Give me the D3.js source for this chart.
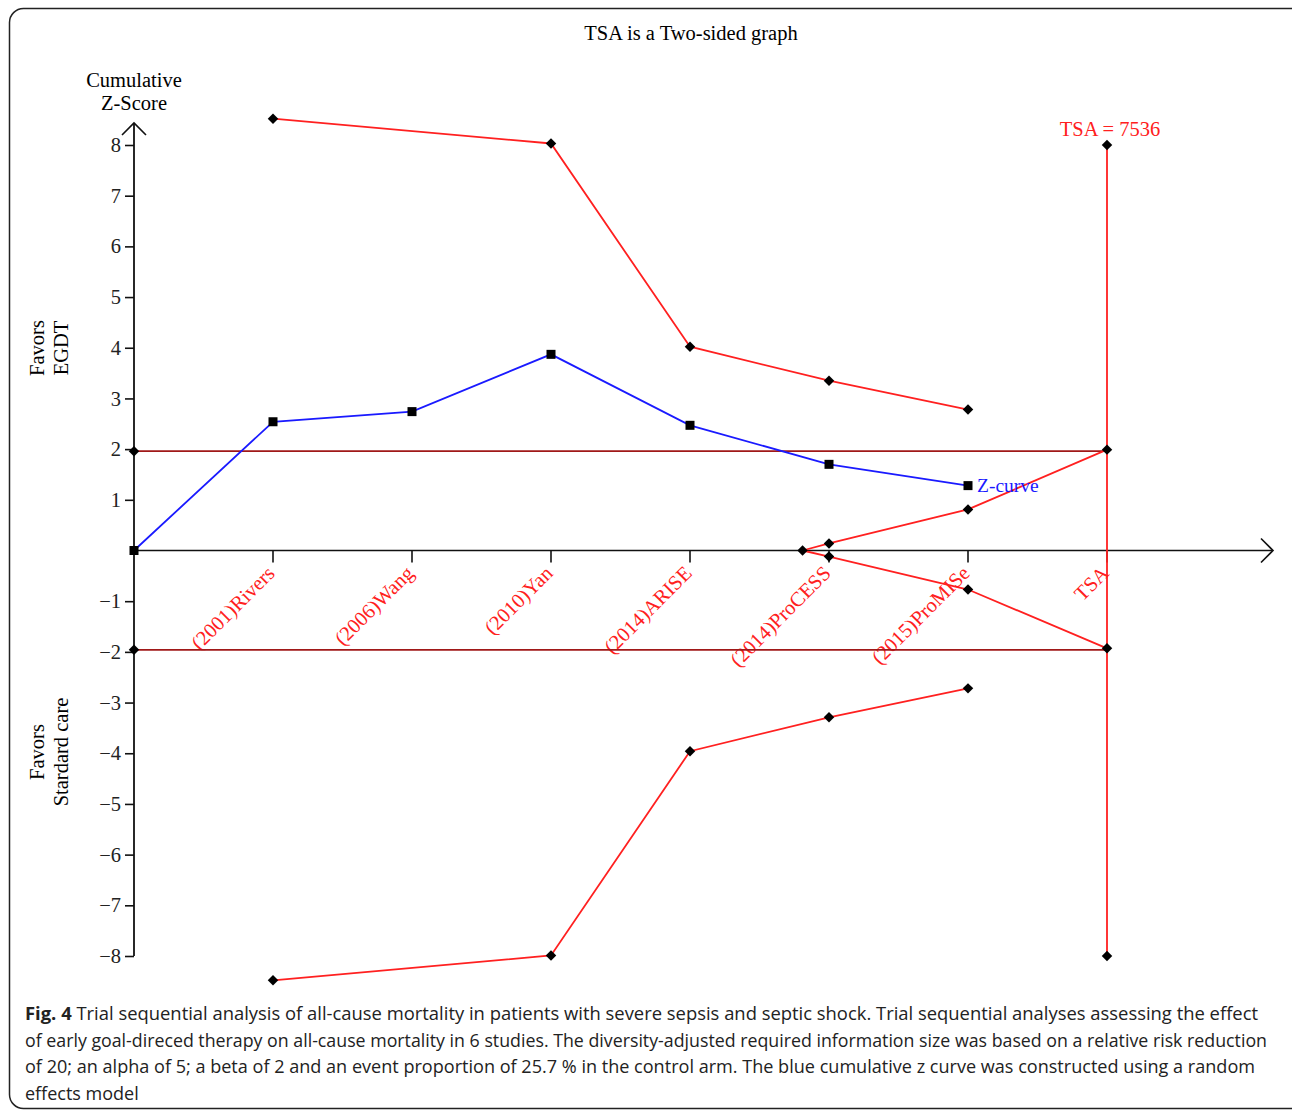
<!DOCTYPE html>
<html>
<head>
<meta charset="utf-8">
<script src="https://cdn.jsdelivr.net/npm/d3@7"></script>
<style>
  body { margin: 0; background: #fff; }
  svg { display: block; }
</style>
</head>
<body>
<div class="chart"></div>
<script>
// studies along the x axis (index 1..7, 0 is origin)
const studies = ["(2001)Rivers","(2006)Wang","(2010)Yan","(2014)ARISE","(2014)ProCESS","(2015)ProMISe","TSA"];

// cumulative z curve
const zPos = [0,1,2,3,4,5,6];
const zVals = [0, 2.54, 2.74, 3.87, 2.47, 1.70, 1.28];

// monitoring boundaries
const boundPos = [1,3,4,5,6];
const upperBound = [8.52, 8.03, 4.02, 3.35, 2.78];
const lowerBound = [-8.48, -7.99, -3.96, -3.29, -2.72];

// futility wedge
const futPos = [4.81, 5, 6, 7];
const futUpper = [0, 0.14, 0.81, 1.99];
const futLower = [0, -0.12, -0.77, -1.93];

// conventional boundary and TSA line
const conventional = [1.96, -1.96];
const tsaPos = 7;
const tsaRange = [8, -8];
const yTicks = [-8,-7,-6,-5,-4,-3,-2,-1,1,2,3,4,5,6,7,8];

// caption lines as printed
const captionLines = [
  "Trial sequential analysis of all-cause mortality in patients with severe sepsis and septic shock. Trial sequential analyses assessing the effect",
  "of early goal-direced therapy on all-cause mortality in 6 studies. The diversity-adjusted required information size was based on a relative risk reduction",
  "of 20; an alpha of 5; a beta of 2 and an event proportion of 25.7 % in the control arm. The blue cumulative z curve was constructed using a random",
  "effects model"
];

document.addEventListener('DOMContentLoaded', () => {
  const width = 1292, height = 1111;
  const serif = '"Liberation Serif", "Times New Roman", serif';
  const fs = 20.5;

  const svg = d3.select('.chart').append('svg')
    .attr('width', width).attr('height', height);

  // frame
  svg.append('rect')
    .attr('x', 9.5).attr('y', 8.5)
    .attr('width', 1300).attr('height', 1100)
    .attr('rx', 14)
    .attr('fill', 'none').attr('stroke', '#222').attr('stroke-width', 1.5);

  const xScale = d3.scaleLinear().domain([0, 7]).range([134, 1107]);
  const yScale = d3.scaleLinear().domain([-8, 8]).range([956, 145]);

  // title
  svg.append('text')
    .attr('x', 691).attr('y', 40)
    .attr('text-anchor', 'middle')
    .attr('font-family', serif).attr('font-size', fs)
    .text('TSA is a Two-sided graph');

  // y axis
  const yAxis = svg.append('g')
    .attr('transform', `translate(${xScale(0)},0)`)
    .call(d3.axisLeft(yScale).tickValues(yTicks).tickSize(9).tickPadding(4));
  yAxis.select('.domain').remove();
  yAxis.selectAll('line').attr('stroke', '#111').attr('stroke-width', 1.6);
  yAxis.selectAll('text').attr('font-family', serif).attr('font-size', fs).attr('fill', '#222');

  svg.append('line')
    .attr('x1', xScale(0)).attr('x2', xScale(0))
    .attr('y1', yScale(-8)).attr('y2', 123)
    .attr('stroke', '#111').attr('stroke-width', 1.8);
  svg.append('path')
    .attr('d', `M${xScale(0)-12},${135} L${xScale(0)},${123} L${xScale(0)+12},${135}`)
    .attr('fill', 'none').attr('stroke', '#111').attr('stroke-width', 1.6);

  // x axis
  svg.append('line')
    .attr('x1', xScale(0)).attr('x2', 1272)
    .attr('y1', yScale(0)).attr('y2', yScale(0))
    .attr('stroke', '#111').attr('stroke-width', 1.6);
  svg.append('path')
    .attr('d', `M1261,${yScale(0)-12} L1273,${yScale(0)} L1261,${yScale(0)+12}`)
    .attr('fill', 'none').attr('stroke', '#111').attr('stroke-width', 1.6);

  svg.selectAll('.xtick').data(studies).enter().append('line')
    .attr('class', 'xtick')
    .attr('x1', (d, i) => xScale(i + 1)).attr('x2', (d, i) => xScale(i + 1))
    .attr('y1', yScale(0)).attr('y2', yScale(0) + 12)
    .attr('stroke', '#111').attr('stroke-width', 1.6);

  svg.selectAll('.xlabel').data(studies).enter().append('text')
    .attr('class', 'xlabel')
    .attr('transform', (d, i) => `translate(${xScale(i + 1) + 3},${yScale(0) + 24}) rotate(-45)`)
    .attr('text-anchor', 'end')
    .attr('font-family', serif).attr('font-size', fs)
    .attr('fill', '#ff2020')
    .text(d => d);

  // axis titles
  svg.append('text')
    .attr('x', xScale(0)).attr('y', 87)
    .attr('text-anchor', 'middle')
    .attr('font-family', serif).attr('font-size', fs)
    .text('Cumulative');
  svg.append('text')
    .attr('x', xScale(0)).attr('y', 110)
    .attr('text-anchor', 'middle')
    .attr('font-family', serif).attr('font-size', fs)
    .text('Z-Score');

  const sideLabel = (cy, lines) => {
    const t = svg.append('text')
      .attr('transform', `translate(48,${cy}) rotate(-90)`)
      .attr('text-anchor', 'middle')
      .attr('font-family', serif).attr('font-size', fs);
    lines.forEach((l, i) => {
      t.append('tspan').attr('x', 0).attr('y', i === 0 ? -4 : 20).text(l);
    });
  };
  sideLabel(348, ['Favors', 'EGDT']);
  sideLabel(752, ['Favors', 'Stardard care']);

  // conventional boundaries
  svg.selectAll('.conv').data(conventional).enter().append('line')
    .attr('class', 'conv')
    .attr('x1', xScale(0)).attr('x2', xScale(tsaPos))
    .attr('y1', d => yScale(d)).attr('y2', d => yScale(d))
    .attr('stroke', '#a01818').attr('stroke-width', 1.8);

  // TSA vertical line
  svg.append('line')
    .attr('x1', xScale(tsaPos)).attr('x2', xScale(tsaPos))
    .attr('y1', yScale(tsaRange[0])).attr('y2', yScale(tsaRange[1]))
    .attr('stroke', '#ff2020').attr('stroke-width', 1.8);

  svg.append('text')
    .attr('x', xScale(tsaPos) + 3).attr('y', 136)
    .attr('text-anchor', 'middle')
    .attr('font-family', serif).attr('font-size', fs)
    .attr('fill', '#ff2020')
    .text('TSA = 7536');

  const line = d3.line().x(d => xScale(d[0])).y(d => yScale(d[1]));
  const zip = (a, b) => a.map((v, i) => [v, b[i]]);

  const redLines = [
    zip(boundPos, upperBound),
    zip(boundPos, lowerBound),
    zip(futPos, futUpper),
    zip(futPos, futLower)
  ];
  svg.selectAll('.bound').data(redLines).enter().append('path')
    .attr('class', 'bound')
    .attr('d', line)
    .attr('fill', 'none').attr('stroke', '#ff2020').attr('stroke-width', 1.8);

  const zData = zip(zPos, zVals);
  svg.append('path')
    .attr('d', line(zData))
    .attr('fill', 'none').attr('stroke', '#1a1aff').attr('stroke-width', 1.8);

  // diamond markers
  const diamonds = [].concat(
    redLines[0], redLines[1], redLines[2], redLines[3].slice(1),
    conventional.map(v => [0, v]),
    tsaRange.map(v => [tsaPos, v])
  );
  const diamond = d3.symbol().type(d3.symbolDiamond2).size(70);
  svg.selectAll('.dm').data(diamonds).enter().append('path')
    .attr('class', 'dm')
    .attr('transform', d => `translate(${xScale(d[0])},${yScale(d[1])})`)
    .attr('d', diamond)
    .attr('fill', '#000');

  svg.selectAll('.sq').data(zData).enter().append('rect')
    .attr('class', 'sq')
    .attr('x', d => xScale(d[0]) - 4.5).attr('y', d => yScale(d[1]) - 4.5)
    .attr('width', 9).attr('height', 9)
    .attr('fill', '#000');

  svg.append('text')
    .attr('x', xScale(zPos[zPos.length - 1]) + 9)
    .attr('y', yScale(zVals[zVals.length - 1]) + 6)
    .attr('font-family', serif).attr('font-size', 19.5)
    .attr('fill', '#1a1aff')
    .text('Z-curve');

  // caption, one text per printed line, fitted to the printed width
  const capEnds = [1258, 1267, 1255, 137];
  const cap = svg.append('g')
    .attr('font-family', '"Open Sans", sans-serif')
    .attr('font-size', 18)
    .attr('fill', '#222');
  captionLines.forEach((l, i) => {
    const t = cap.append('text')
      .attr('x', 25).attr('y', 1020 + i * 26.5);
    if (i < 3) {
      t.attr('textLength', capEnds[i] - 25).attr('lengthAdjust', 'spacingAndGlyphs');
    }
    if (i === 0) {
      t.append('tspan').attr('font-weight', 'bold').text('Fig. 4 ');
    }
    t.append('tspan').text(l);
  });
});
</script>
</body>
</html>
